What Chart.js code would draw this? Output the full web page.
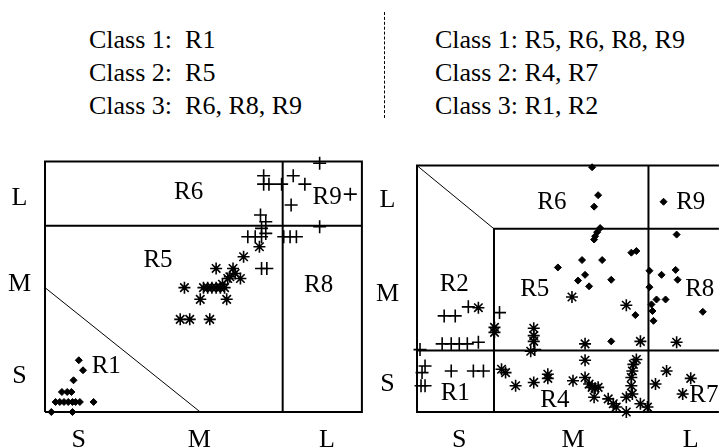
<!DOCTYPE html>
<html>
<head>
<meta charset="utf-8">
<script src="https://cdn.jsdelivr.net/npm/chart.js@4"></script>
<style>
  body { margin: 0; background: #fff; width: 727px; height: 448px; overflow: hidden; position: relative; }
  .rules { position: absolute; font: 26px "Liberation Serif", serif; line-height: 33px; color: #000; white-space: pre; }
  .divider { position: absolute; left: 384px; top: 12px; height: 106px; border-left: 1px dashed #000; }
  canvas { position: absolute; top: 140px; }
</style>
</head>
<body>
<div class="rules" id="leftRules" style="left:89px; top:23px;"></div>
<div class="divider"></div>
<div class="rules" id="rightRules" style="left:435px; top:23px;"></div>
<canvas id="leftChart" width="370" height="308" style="left:0"></canvas>
<canvas id="rightChart" width="357" height="308" style="left:370px"></canvas>
<script>
// rule text above each panel
const leftRules = ["Class 1:  R1", "Class 2:  R5", "Class 3:  R6, R8, R9"];
const rightRules = ["Class 1: R5, R6, R8, R9", "Class 2: R4, R7", "Class 3: R1, R2"];

// axis ticks (data units 0..3)
const tickLabels = ["S", "M", "L"];
const leftXTicks = [0.32, 1.46, 2.67];
const leftYTicks = [0.43, 1.53, 2.56];
const rightXTicks = [0.42, 1.55, 2.72];
const rightYTicks = [0.34, 1.44, 2.58];

// region boundaries
const leftBoundaries = [
  [[0, 0], [3, 0], [3, 3], [0, 3], [0, 0]],
  [[0, 2.23], [3, 2.23]],
  [[2.25, 0], [2.25, 3]]
];
const leftDiagonal = [[0, 1.49], [1.47, 0]];
const rightBoundaries = [
  [[3, 3], [0, 3], [0, 0], [3, 0]],
  [[0.765, 0], [0.765, 2.23], [3, 2.23]],
  [[2.30, 0], [2.30, 3]],
  [[0, 0.75], [3, 0.75]]
];
const rightDiagonal = [[0, 3], [0.765, 2.23]];

// region names
const leftRegionNames = ["R6", "R9", "R5", "R8", "R1"];
const leftRegionPos = [[1.36, 2.63], [2.67, 2.57], [1.07, 1.82], [2.59, 1.52], [0.58, 0.54]];
const rightRegionNames = ["R6", "R9", "R2", "R5", "R8", "R1", "R4", "R7"];
const rightRegionPos = [[1.34, 2.55], [2.72, 2.55], [0.37, 1.55], [1.17, 1.49], [2.81, 1.49], [0.38, 0.22], [1.37, 0.14], [2.85, 0.20]];

// samples, left panel
const leftDiamonds = [
  [0.06, 0.0], [0.26, 0.0],
  [0.10, 0.12], [0.14, 0.12], [0.18, 0.12], [0.22, 0.12], [0.26, 0.12], [0.29, 0.12], [0.33, 0.12], [0.46, 0.12],
  [0.16, 0.24], [0.21, 0.24], [0.25, 0.24],
  [0.27, 0.38], [0.36, 0.50], [0.32, 0.62]
];
const leftStars = [
  [1.28, 1.11], [1.37, 1.11], [1.56, 1.11],
  [1.47, 1.35], [1.72, 1.35],
  [1.32, 1.49], [1.50, 1.49], [1.54, 1.49], [1.58, 1.49], [1.62, 1.49], [1.66, 1.49], [1.70, 1.49],
  [1.62, 1.72], [1.78, 1.72], [1.80, 1.66], [1.75, 1.62], [1.85, 1.60], [1.73, 1.60], [1.68, 1.53],
  [1.88, 1.86], [2.03, 1.98]
];
const leftPluses = [
  [2.05, 1.72], [2.10, 1.72],
  [1.92, 2.10], [1.99, 2.10], [2.05, 2.10], [2.26, 2.10], [2.32, 2.10], [2.38, 2.10],
  [2.04, 2.36], [2.09, 2.28], [2.05, 2.20], [2.09, 2.14],
  [2.07, 2.83], [2.07, 2.73], [2.12, 2.73], [2.24, 2.73], [2.35, 2.83], [2.46, 2.73],
  [2.60, 2.98], [2.33, 2.48], [2.89, 2.61], [2.60, 2.22]
];

// samples, right panel
const rightDiamonds = [
  [1.74, 2.98], [1.80, 2.64], [1.76, 2.50],
  [1.82, 2.24], [1.79, 2.19], [1.77, 2.14], [1.76, 2.10],
  [2.13, 1.94], [2.18, 1.96], [1.64, 1.85], [1.84, 1.85], [1.40, 1.76],
  [1.67, 1.67], [1.60, 1.60], [1.93, 1.61], [1.71, 1.53], [2.17, 1.18], [1.93, 0.86],
  [2.45, 2.56], [2.58, 2.16],
  [2.31, 1.72], [2.43, 1.67], [2.57, 1.73], [2.59, 1.61], [2.31, 1.52],
  [2.38, 1.37], [2.47, 1.37], [2.33, 1.31], [2.34, 1.23], [2.35, 1.11], [2.84, 1.22]
];
const rightStars = [
  [1.54, 1.40], [2.08, 1.30], [0.61, 1.27], [0.77, 1.03], [0.77, 0.97],
  [1.16, 1.02], [1.16, 0.93], [1.16, 0.86], [1.13, 0.74],
  [1.67, 0.83], [2.22, 0.86], [2.58, 0.85], [1.67, 0.63],
  [0.84, 0.52], [0.88, 0.48], [0.98, 0.32], [1.16, 0.36], [1.30, 0.46], [1.30, 0.41],
  [1.55, 0.38], [1.67, 0.42], [1.71, 0.34], [1.74, 0.30], [1.77, 0.29], [1.80, 0.30], [1.76, 0.18],
  [1.90, 0.16], [1.95, 0.10], [1.98, 0.06], [2.08, 0.0],
  [2.08, 0.18], [2.13, 0.32], [2.13, 0.42], [2.14, 0.50], [2.15, 0.58], [2.18, 0.64], [2.14, 0.22],
  [2.22, 0.10], [2.29, 0.06], [2.37, 0.34], [2.48, 0.50], [2.72, 0.41], [2.64, 0.22]
];
const rightPluses = [
  [0.27, 1.17], [0.38, 1.17], [0.51, 1.28], [0.82, 1.21],
  [0.25, 0.83], [0.34, 0.83], [0.42, 0.83], [0.50, 0.83], [0.61, 0.85],
  [0.03, 0.76], [1.17, 0.76],
  [0.08, 0.56], [0.05, 0.48], [0.08, 0.32], [0.04, 0.32],
  [0.34, 0.50], [0.56, 0.50], [0.66, 0.50]
];

document.getElementById("leftRules").textContent = leftRules.join("\n");
document.getElementById("rightRules").textContent = rightRules.join("\n");

const FONT = "Liberation Serif";
const toPoints = arr => arr.map(p => ({ x: p[0], y: p[1] }));

const lineSet = (pts, width) => ({
  data: toPoints(pts),
  showLine: true,
  borderColor: "#000",
  borderWidth: width,
  pointRadius: 0,
  clip: false
});

const markerSet = (pts, style, radius) => ({
  data: toPoints(pts),
  pointStyle: style,
  pointRadius: radius,
  pointBorderWidth: style === "rectRot" ? 1 : 1.6,
  borderColor: "#000",
  backgroundColor: "#000",
  showLine: false,
  clip: false
});

const regionLabels = {
  id: "regionLabels",
  afterDatasetsDraw(chart, args, opts) {
    const { ctx, scales } = chart;
    ctx.save();
    ctx.fillStyle = "#000";
    ctx.font = `25px "${FONT}"`;
    ctx.textAlign = "center";
    ctx.textBaseline = "middle";
    opts.names.forEach((name, i) => {
      const p = opts.pos[i];
      ctx.fillText(name, scales.x.getPixelForValue(p[0]), scales.y.getPixelForValue(p[1]));
    });
    ctx.restore();
  }
};

function makePanel(id, cfg) {
  const datasets = [
    ...cfg.boundaries.map(seg => lineSet(seg, 2)),
    lineSet(cfg.diagonal, 1),
    markerSet(cfg.diamonds, "rectRot", 3.5),
    markerSet(cfg.stars, "star", 6),
    markerSet(cfg.pluses, "cross", 6.5)
  ];
  return new Chart(document.getElementById(id), {
    type: "scatter",
    data: { datasets },
    plugins: [regionLabels],
    options: {
      responsive: false,
      animation: false,
      events: [],
      layout: { padding: { top: 19, right: cfg.padRight, left: 0, bottom: 0 } },
      plugins: {
        legend: { display: false },
        tooltip: { enabled: false },
        regionLabels: { names: cfg.names, pos: cfg.pos }
      },
      scales: {
        x: {
          type: "linear", min: 0, max: 3,
          grid: { display: false },
          border: { display: false },
          afterBuildTicks: axis => { axis.ticks = cfg.xTicks.map(v => ({ value: v })); },
          afterFit: axis => { axis.height = 36; },
          ticks: {
            autoSkip: false, maxRotation: 0, padding: 5,
            color: "#000", font: { family: FONT, size: 26 },
            callback: (v, i) => tickLabels[i]
          }
        },
        y: {
          type: "linear", min: 0, max: 3,
          grid: { display: false },
          border: { display: false },
          afterBuildTicks: axis => { axis.ticks = cfg.yTicks.map(v => ({ value: v })); },
          afterFit: axis => { axis.width = cfg.axisWidth; },
          ticks: {
            autoSkip: false, padding: cfg.yPad, crossAlign: "center",
            color: "#000", font: { family: FONT, size: 26 },
            callback: (v, i) => tickLabels[i]
          }
        }
      }
    }
  });
}

makePanel("leftChart", {
  boundaries: leftBoundaries, diagonal: leftDiagonal,
  diamonds: leftDiamonds, stars: leftStars, pluses: leftPluses,
  names: leftRegionNames, pos: leftRegionPos,
  xTicks: leftXTicks, yTicks: leftYTicks,
  axisWidth: 45, yPad: 6, padRight: 8
});

makePanel("rightChart", {
  boundaries: rightBoundaries, diagonal: rightDiagonal,
  diamonds: rightDiamonds, stars: rightStars, pluses: rightPluses,
  names: rightRegionNames, pos: rightRegionPos,
  xTicks: rightXTicks, yTicks: rightYTicks,
  axisWidth: 47, yPad: 10, padRight: 0
});
</script>
</body>
</html>
